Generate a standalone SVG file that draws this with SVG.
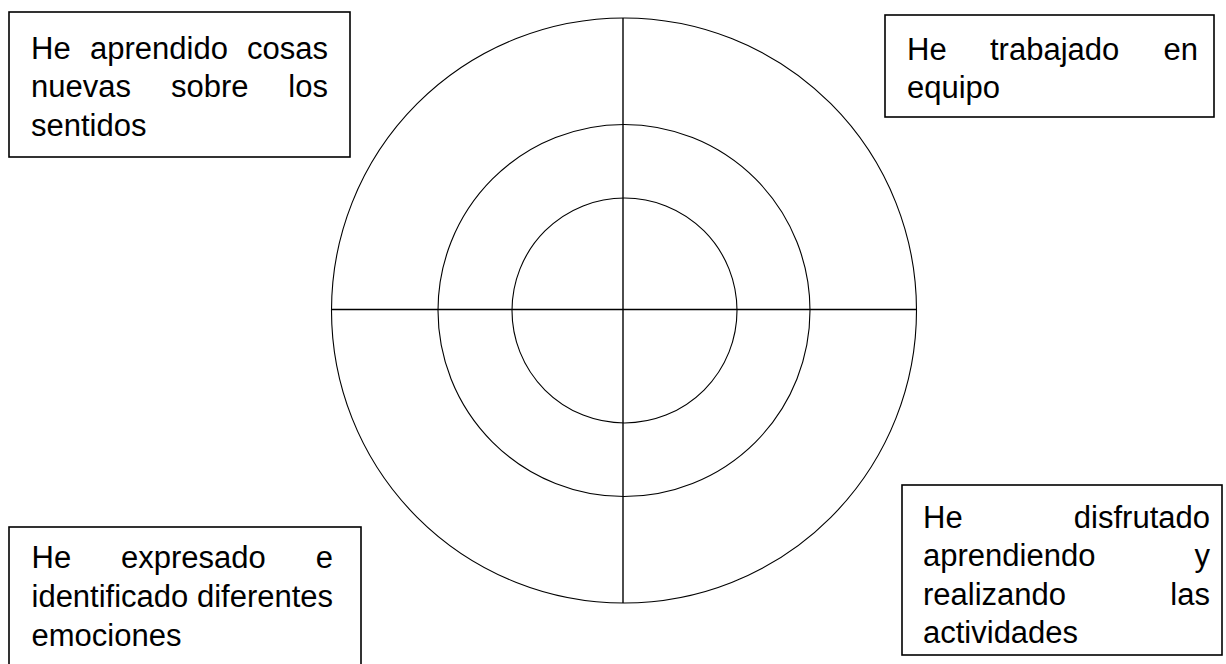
<svg xmlns="http://www.w3.org/2000/svg" width="1226" height="664" viewBox="0 0 1226 664">
<style>
.box{fill:#fff;stroke:#000;stroke-width:1.6}
.ring{fill:none;stroke:#000;stroke-width:1.1}
.axis{stroke:#000;stroke-width:1.4}
text{font-family:"Liberation Sans",Arial,sans-serif;font-size:31px;fill:#000}
.e{text-anchor:end}
</style>
<rect width="1226" height="664" fill="#fff"/>
<g id="target">
<circle class="ring" cx="624" cy="310.5" r="292.5"/>
<circle class="ring" cx="624" cy="310.5" r="186"/>
<circle class="ring" cx="624.5" cy="310.5" r="112.5"/>
</g>
<g id="connectors">
<line class="axis" x1="332" y1="309.5" x2="916.5" y2="309.5"/>
<line class="axis" x1="623" y1="18" x2="623" y2="603"/>
</g>
<g id="box-sentidos">
<rect class="box" x="9" y="12" width="341" height="145"/>
<text x="31" y="58.5">He</text><text x="90" y="58.5">aprendido</text><text class="e" x="328" y="58.5">cosas</text>
<text x="31" y="97">nuevas</text><text x="171" y="97">sobre</text><text class="e" x="328" y="97">los</text>
<text x="31" y="135.5">sentidos</text>
</g>
<g id="box-equipo">
<rect class="box" x="885" y="15" width="329" height="102"/>
<text x="907" y="60">He</text><text x="990" y="60">trabajado</text><text class="e" x="1198" y="60">en</text>
<text x="907" y="98">equipo</text>
</g>
<g id="box-emociones">
<rect class="box" x="9" y="527" width="352" height="145"/>
<text x="31.5" y="567.5">He</text><text x="121" y="567.5">expresado</text><text class="e" x="333" y="567.5">e</text>
<text x="31.5" y="606.5">identificado diferentes</text>
<text x="31.5" y="645.5">emociones</text>
</g>
<g id="box-disfrutado">
<rect class="box" x="902" y="485" width="320" height="170"/>
<text x="923" y="528">He</text><text class="e" x="1210" y="528">disfrutado</text>
<text x="923" y="566.3">aprendiendo</text><text class="e" x="1210" y="566.3">y</text>
<text x="923" y="604.6">realizando</text><text class="e" x="1210" y="604.6">las</text>
<text x="923" y="643">actividades</text>
</g>
</svg>
